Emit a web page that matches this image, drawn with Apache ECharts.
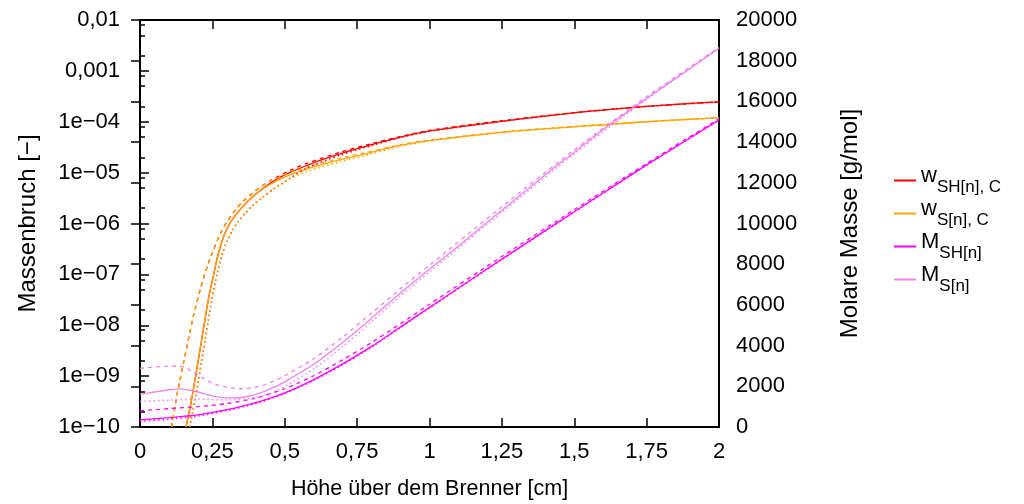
<!DOCTYPE html>
<html>
<head>
<meta charset="utf-8">
<script src="https://cdn.jsdelivr.net/npm/echarts@6/dist/echarts.min.js"></script>
<style>
  html, body { margin: 0; padding: 0; background: #fff; }
  #chart { width: 1024px; height: 504px; }
</style>
</head>
<body>
<div id="chart"></div>
<script>
// Mass fractions (left, log axis) and molar masses (right, linear axis)
// along the height above the burner. Each quantity has three variants:
// solid, dashed and dotted.

// w_SH[n],C
const wSH_solid = [[0.159,1.0e-10],[0.178,3.4e-10],[0.207,3.2e-9],[0.236,3.2e-8],[0.255,1.02e-7],[0.265,1.9e-7],[0.275,3.16e-7],[0.285,4.79e-7],[0.295,6.76e-7],[0.31,1.0e-6],[0.328,1.41e-6],[0.35,2.0e-6],[0.373,2.75e-6],[0.4,3.8e-6],[0.43,5.13e-6],[0.466,7.08e-6],[0.52,1.02e-5],[0.58,1.41e-5],[0.622,1.74e-5],[0.69,2.34e-5],[0.75,2.95e-5],[0.8,3.55e-5],[0.9,5.0e-5],[1.0,6.6e-5],[1.1,7.9e-5],[1.25,1.02e-4],[1.4,1.29e-4],[1.52,1.55e-4],[1.6,1.7e-4],[1.75,2.0e-4],[1.9,2.29e-4],[2.0,2.45e-4]];
const wSH_dashed = [[0.109,1.0e-10],[0.13,5.0e-10],[0.15,1.78e-9],[0.184,1.48e-8],[0.21,5.6e-8],[0.235,1.58e-7],[0.255,3.16e-7],[0.28,6.8e-7],[0.305,1.17e-6],[0.33,1.86e-6],[0.355,2.69e-6],[0.4,4.47e-6],[0.45,6.9e-6],[0.52,1.12e-5],[0.58,1.55e-5],[0.69,2.51e-5],[0.8,3.72e-5],[0.9,5.13e-5],[1.0,6.76e-5],[1.25,1.05e-4],[1.5,1.51e-4],[1.75,2.0e-4],[2.0,2.45e-4]];
const wSH_dotted = [[0.171,1.0e-10],[0.19,3.4e-10],[0.219,3.2e-9],[0.248,3.2e-8],[0.267,1.07e-7],[0.283,2.4e-7],[0.3,4.47e-7],[0.32,7.4e-7],[0.34,1.1e-6],[0.365,1.62e-6],[0.39,2.29e-6],[0.42,3.16e-6],[0.46,4.68e-6],[0.52,7.9e-6],[0.58,1.26e-5],[0.69,2.19e-5],[0.8,3.39e-5],[0.9,4.9e-5],[1.0,6.46e-5],[1.25,1.02e-4],[1.5,1.5e-4],[1.75,2.0e-4],[2.0,2.45e-4]];

// w_S[n],C
const wS_solid = [[0.159,1.0e-10],[0.178,3.4e-10],[0.207,3.2e-9],[0.236,3.2e-8],[0.255,1.02e-7],[0.265,1.9e-7],[0.275,3.16e-7],[0.285,4.79e-7],[0.295,6.76e-7],[0.31,1.0e-6],[0.328,1.41e-6],[0.35,2.0e-6],[0.373,2.75e-6],[0.4,3.8e-6],[0.43,5.05e-6],[0.466,6.6e-6],[0.52,9.1e-6],[0.58,1.2e-5],[0.622,1.41e-5],[0.69,1.78e-5],[0.75,2.14e-5],[0.8,2.5e-5],[0.9,3.47e-5],[1.0,4.27e-5],[1.1,5.0e-5],[1.25,6.17e-5],[1.4,7.24e-5],[1.52,8.13e-5],[1.6,8.7e-5],[1.75,1.0e-4],[1.9,1.12e-4],[2.0,1.2e-4]];
const wS_dashed = [[0.109,1.0e-10],[0.13,5.0e-10],[0.15,1.78e-9],[0.184,1.48e-8],[0.21,5.6e-8],[0.235,1.58e-7],[0.255,3.16e-7],[0.28,6.8e-7],[0.305,1.17e-6],[0.33,1.86e-6],[0.355,2.69e-6],[0.4,4.47e-6],[0.45,6.76e-6],[0.52,1.0e-5],[0.58,1.29e-5],[0.69,1.91e-5],[0.8,2.63e-5],[0.9,3.55e-5],[1.0,4.37e-5],[1.25,6.3e-5],[1.5,8.13e-5],[1.75,1.0e-4],[2.0,1.2e-4]];
const wS_dotted = [[0.171,1.0e-10],[0.19,3.4e-10],[0.219,3.2e-9],[0.248,3.2e-8],[0.267,1.07e-7],[0.283,2.4e-7],[0.3,4.47e-7],[0.32,7.4e-7],[0.34,1.1e-6],[0.365,1.62e-6],[0.39,2.29e-6],[0.42,3.16e-6],[0.46,4.6e-6],[0.52,7.6e-6],[0.58,1.07e-5],[0.69,1.62e-5],[0.8,2.34e-5],[0.9,3.31e-5],[1.0,4.17e-5],[1.25,6.17e-5],[1.5,7.94e-5],[1.75,1.0e-4],[2.0,1.2e-4]];

// M_SH[n] in g/mol
const MSH_solid = [[0,350],[0.1,460],[0.2,600],[0.3,850],[0.4,1200],[0.5,1680],[0.6,2330],[0.7,3100],[0.8,3960],[0.9,4920],[1.0,5880],[1.1,6830],[1.25,8250],[1.4,9650],[1.5,10580],[1.6,11500],[1.75,12880],[1.9,14200],[2.0,15090]];
const MSH_dashed = [[0,800],[0.1,900],[0.2,1000],[0.3,1150],[0.4,1420],[0.5,1880],[0.6,2520],[0.7,3300],[0.8,4150],[0.9,5080],[1.0,6030],[1.25,8380],[1.5,10680],[1.75,12950],[2.0,15150]];
const MSH_dotted = [[0,280],[0.1,380],[0.2,540],[0.3,800],[0.4,1150],[0.5,1640],[0.6,2290],[0.7,3060],[0.8,3930],[0.9,4890],[1.0,5850],[1.25,8230],[1.5,10560],[1.75,12870],[2.0,15080]];

// M_S[n] in g/mol
const MS_solid = [[0,1600],[0.05,1720],[0.1,1830],[0.14,1870],[0.2,1720],[0.25,1530],[0.3,1430],[0.35,1450],[0.4,1600],[0.45,1870],[0.5,2220],[0.6,3080],[0.7,4150],[0.8,5350],[0.9,6590],[1.0,7750],[1.1,8900],[1.25,10650],[1.4,12400],[1.5,13500],[1.6,14620],[1.75,16150],[1.9,17620],[2.0,18620]];
const MS_dashed = [[0,2880],[0.05,2950],[0.1,2990],[0.15,2950],[0.2,2550],[0.25,2150],[0.3,1950],[0.35,1880],[0.4,1960],[0.45,2180],[0.5,2520],[0.6,3350],[0.7,4420],[0.8,5600],[0.9,6800],[1.0,7950],[1.25,10820],[1.5,13620],[1.75,16230],[2.0,18650]];
const MS_dotted = [[0,1250],[0.1,1320],[0.2,1370],[0.3,1330],[0.4,1450],[0.45,1650],[0.5,2000],[0.6,2850],[0.7,3950],[0.8,5180],[0.9,6450],[1.0,7620],[1.25,10550],[1.5,13420],[1.75,16100],[2.0,18600]];

// Axis ticks and labels
const xTickLabels = ['0','0,25','0,5','0,75','1','1,25','1,5','1,75','2'];
const leftTicks = [1e-10,1e-9,1e-8,1e-7,1e-6,1e-5,1e-4,1e-3,1e-2];
const leftTickLabels = ['1e\u221210','1e\u221209','1e\u221208','1e\u221207','1e\u221206','1e\u221205','1e\u221204','0,001','0,01'];
const leftMinorTicks = [];
leftTicks.slice(0, -1).forEach(d => { [2,5,8].forEach(m => leftMinorTicks.push(d * m)); });

const legendNames = ['wSH', 'wS', 'MSH', 'MS'];
const legendLabels = {
  wSH: '{m|w}{s|SH[n], C}',
  wS:  '{m|w}{s|S[n], C}',
  MSH: '{m|M}{s|SH[n]}',
  MS:  '{m|M}{s|S[n]}'
};

const colors = { wSH: '#ff0000', wS: '#ffa500', MSH: '#ff00ff', MS: '#ee82ee' };
const FONT = 'Liberation Sans';

function line(name, data, axis, color, type, width) {
  return {
    type: 'line', name: name, data: data, yAxisIndex: axis,
    color: color, showSymbol: false, symbol: 'none',
    smooth: 0.25, clip: true, silent: true,
    lineStyle: { color: color, width: width, type: type }
  };
}

const DASH = [4, 4];
const DOT = [1.5, 3];

const option = {
  animation: false,
  backgroundColor: '#fff',
  textStyle: { fontFamily: FONT, color: '#000' },
  grid: {
    left: 140, right: 305, top: 20, bottom: 77,
    outerBoundsMode: 'none', containLabel: false,
    show: true, borderColor: '#000', borderWidth: 2, backgroundColor: 'transparent'
  },
  legend: {
    data: legendNames, orient: 'vertical', left: 889, top: 160,
    itemWidth: 22, itemHeight: 2, itemGap: 2, icon: 'rect',
    selectedMode: false,
    formatter: n => legendLabels[n],
    textStyle: {
      color: '#000', fontFamily: FONT,
      rich: {
        m: { fontSize: 22, fontFamily: FONT, color: '#000', verticalAlign: 'bottom', padding: [0, 0, 9, 0] },
        s: { fontSize: 17, fontFamily: FONT, color: '#000', verticalAlign: 'bottom' }
      }
    }
  },
  xAxis: [
    {
      type: 'value', min: 0, max: 2, interval: 0.25, position: 'bottom',
      axisLine: { show: false },
      axisTick: { show: true, inside: true, length: 9, lineStyle: { color: '#000', width: 1.5 } },
      axisLabel: { margin: 14, fontSize: 22, color: '#000', fontFamily: FONT, formatter: v => xTickLabels[Math.round(v / 0.25)] },
      splitLine: { show: false },
      name: 'Höhe über dem Brenner [cm]', nameLocation: 'middle', nameGap: 51,
      nameTextStyle: { fontSize: 21.5, color: '#000', fontFamily: FONT }
    },
    {
      type: 'value', min: 0, max: 2, interval: 0.25, position: 'top',
      axisLine: { show: false },
      axisTick: { show: true, inside: true, length: 9, lineStyle: { color: '#000', width: 1.5 } },
      axisLabel: { show: false }, splitLine: { show: false }
    }
  ],
  yAxis: [
    {
      type: 'log', logBase: 10, min: 1e-10, max: 1e-2, position: 'left',
      axisLine: { show: false },
      axisTick: { show: true, inside: true, length: 9, customValues: leftTicks, lineStyle: { color: '#000', width: 1.5 } },
      axisLabel: {
        margin: 20, fontSize: 22, color: '#000', fontFamily: FONT, customValues: leftTicks,
        formatter: v => { const i = leftTicks.findIndex(t => Math.abs(Math.log10(t) - Math.log10(v)) < 1e-6); return i >= 0 ? leftTickLabels[i] : ''; }
      },
      splitLine: { show: false },
      name: 'Massenbruch [\u2212]', nameLocation: 'middle', nameGap: 100, nameRotate: 90,
      nameTextStyle: { fontSize: 24, color: '#000', fontFamily: FONT }
    },
    {
      type: 'value', min: 0, max: 20000, interval: 2000, position: 'right',
      axisLine: { show: false },
      axisTick: { show: true, inside: true, length: 9, lineStyle: { color: '#000', width: 1.5 } },
      axisLabel: { margin: 17, fontSize: 22, color: '#000', fontFamily: FONT, formatter: v => String(v) },
      splitLine: { show: false },
      name: 'Molare Masse [g/mol]', nameLocation: 'middle', nameGap: 119, nameRotate: 90,
      nameTextStyle: { fontSize: 24, color: '#000', fontFamily: FONT }
    },
    {
      type: 'log', logBase: 10, min: 1e-10, max: 1e-2, position: 'left',
      axisLine: { show: false },
      axisTick: { show: true, inside: true, length: 5, customValues: leftMinorTicks, lineStyle: { color: '#000', width: 1.5 } },
      axisLabel: { show: false }, splitLine: { show: false }
    }
  ],
  series: [
    line('wSH', wSH_solid, 0, colors.wSH, 'solid', 1.3),
    line('wS', wS_solid, 0, colors.wS, 'solid', 1.3),
    line('MSH', MSH_solid, 1, colors.MSH, 'solid', 1.3),
    line('MS', MS_solid, 1, colors.MS, 'solid', 1.3),
    line('wSH dashed', wSH_dashed, 0, colors.wSH, DASH, 1.3),
    line('wS dashed', wS_dashed, 0, colors.wS, DASH, 1.3),
    line('MSH dashed', MSH_dashed, 1, colors.MSH, DASH, 1.3),
    line('MS dashed', MS_dashed, 1, colors.MS, DASH, 1.3),
    line('wSH dotted', wSH_dotted, 0, colors.wSH, DOT, 1.5),
    line('wS dotted', wS_dotted, 0, colors.wS, DOT, 1.5),
    line('MSH dotted', MSH_dotted, 1, colors.MSH, DOT, 1.5),
    line('MS dotted', MS_dotted, 1, colors.MS, DOT, 1.5)
  ]
};

const chart = echarts.init(document.getElementById('chart'), null, { renderer: 'canvas' });
chart.setOption(option);
</script>
</body>
</html>
